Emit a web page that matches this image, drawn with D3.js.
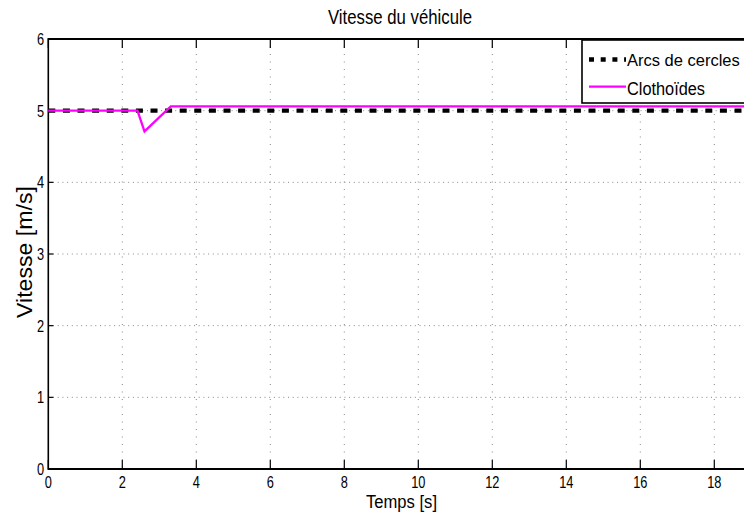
<!DOCTYPE html>
<html><head><meta charset="utf-8">
<script src="https://cdn.jsdelivr.net/npm/d3@7"></script>
<style>body{margin:0;background:#fff;} svg{display:block;} text{font-family:"Liberation Sans",Arial,sans-serif;fill:#000;}</style>
</head><body>
<svg id="c" width="744" height="519"></svg>
<script>
const xTicks = [0,2,4,6,8,10,12,14,16,18];
const yTicks = [0,1,2,3,4,5,6];
const arcsTime = [0, 20];
const arcsSpeed = [5.0, 5.0];
const clothoTime = [0, 2.41, 2.6, 3.31, 20];
const clothoSpeed = [5.0, 5.0, 4.71, 5.06, 5.06];
const titleText = "Vitesse du véhicule";
const xLabel = "Temps [s]";
const yLabel = "Vitesse [m/s]";
const legendLabels = ["Arcs de cercles", "Clothoïdes"];

const svg = d3.select("#c");
const x = d3.scaleLinear().domain([0,20]).range([48.3, 788.3]);
const y = d3.scaleLinear().domain([0,6]).range([469, 39]);

// grid
svg.append("g").selectAll("line").data(xTicks.slice(1)).join("line")
  .attr("x1", d=>x(d)).attr("x2", d=>x(d)).attr("y1", y(6)).attr("y2", y(0))
  .attr("stroke","#888").attr("stroke-width",1).attr("stroke-dasharray","1,6.5");
svg.append("g").selectAll("line").data(yTicks.slice(1,-1)).join("line")
  .attr("x1", x(0)).attr("x2", x(20)).attr("y1", d=>y(d)).attr("y2", d=>y(d))
  .attr("stroke","#888").attr("stroke-width",1).attr("stroke-dasharray","1,3.7");

// ticks inward
svg.append("g").selectAll("line").data(xTicks).join("line")
  .attr("x1", d=>x(d)).attr("x2", d=>x(d)).attr("y1", y(0)).attr("y2", y(0)-9)
  .attr("stroke","#000").attr("stroke-width",1.2);
svg.append("g").selectAll("line").data(xTicks).join("line")
  .attr("x1", d=>x(d)).attr("x2", d=>x(d)).attr("y1", y(6)).attr("y2", y(6)+9)
  .attr("stroke","#000").attr("stroke-width",1.2);
svg.append("g").selectAll("line").data(yTicks).join("line")
  .attr("x1", x(0)).attr("x2", x(0)+5).attr("y1", d=>y(d)).attr("y2", d=>y(d))
  .attr("stroke","#000").attr("stroke-width",1.2);

// axes frame
svg.append("line").attr("x1",x(0)).attr("x2",x(20)).attr("y1",y(0)).attr("y2",y(0)).attr("stroke","#000").attr("stroke-width",2);
svg.append("line").attr("x1",x(0)).attr("x2",x(20)).attr("y1",y(6)).attr("y2",y(6)).attr("stroke","#000").attr("stroke-width",2);
svg.append("line").attr("x1",x(0)).attr("x2",x(0)).attr("y1",y(0)+1).attr("y2",y(6)-1).attr("stroke","#000").attr("stroke-width",1.6);

// tick labels
svg.append("g").selectAll("text").data(xTicks).join("text")
  .attr("x", d=>x(d)).attr("y", 488.5).attr("text-anchor","middle")
  .attr("font-size",16).attr("transform", d=>`translate(${x(d)},0) scale(0.8,1) translate(${-x(d)},0)`)
  .text(d=>d);
svg.append("g").selectAll("text").data(yTicks).join("text")
  .attr("x", 44).attr("y", d=>y(d)+6).attr("text-anchor","end")
  .attr("font-size",16).attr("transform", `translate(44,0) scale(0.8,1) translate(-44,0)`)
  .text(d=>d);

// series
const line = d3.line().x(d=>x(d[0])).y(d=>y(d[1]));
svg.append("path").datum(arcsTime.map((t,i)=>[t,arcsSpeed[i]])).attr("d", line)
  .attr("fill","none").attr("stroke","#000").attr("stroke-width",4.4).attr("stroke-dasharray","7,7.6");
svg.append("path").datum(clothoTime.map((t,i)=>[t,clothoSpeed[i]])).attr("d", line)
  .attr("fill","none").attr("stroke","#ff00ff").attr("stroke-width",2.3);

// legend
const lg = svg.append("g");
lg.append("rect").attr("x",582).attr("y",40).attr("width",200).attr("height",63)
  .attr("fill","#fff").attr("stroke","#000").attr("stroke-width",1.6);
lg.append("line").attr("x1",589).attr("x2",626).attr("y1",59.5).attr("y2",59.5)
  .attr("stroke","#000").attr("stroke-width",4.4).attr("stroke-dasharray","5,6.7");
lg.append("line").attr("x1",589).attr("x2",626).attr("y1",86.7).attr("y2",86.7)
  .attr("stroke","#ff00ff").attr("stroke-width",2.3);
lg.append("text").attr("x",627).attr("y",65.5).attr("font-size",16.5).text(legendLabels[0]);
lg.append("text").attr("x",627).attr("y",95).attr("font-size",17.5).attr("textLength",78).attr("lengthAdjust","spacingAndGlyphs").text(legendLabels[1]);

// titles
svg.append("text").attr("x",328).attr("y",24).attr("font-size",21).attr("textLength",144).attr("lengthAdjust","spacingAndGlyphs").text(titleText);
svg.append("text").attr("x",366).attr("y",508).attr("font-size",18).attr("textLength",71).attr("lengthAdjust","spacingAndGlyphs").text(xLabel);
svg.append("text").attr("transform","translate(32,318) rotate(-90)").attr("font-size",22).attr("textLength",132).attr("lengthAdjust","spacingAndGlyphs").text(yLabel);
</script>
</body></html>
